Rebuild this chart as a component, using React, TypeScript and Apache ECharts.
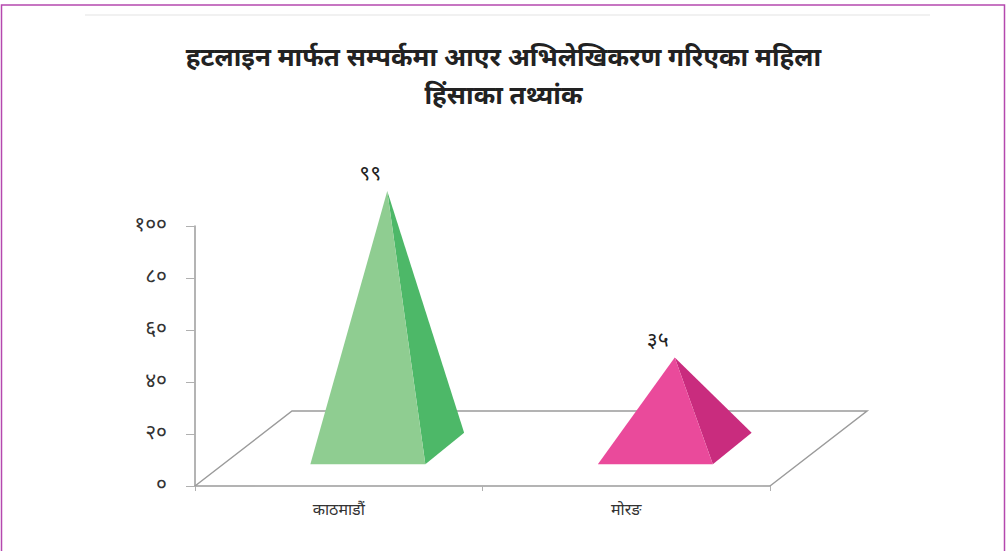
import React, { useEffect, useRef } from 'react';
import * as echarts from 'echarts';

const titleLines = ['हटलाइन मार्फत सम्पर्कमा आएर अभिलेखिकरण गरिएका महिला', 'हिंसाका तथ्यांक'];
const categories = ['काठमाडौं', 'मोरङ'];
const values = [99, 35];
const valueLabels = ['९९', '३५'];
const yTickValues = [0, 20, 40, 60, 80, 100];
const yTickLabels = ['०', '२०', '४०', '६०', '८०', '१००'];
const frontColors = ['#8fcd91', '#ea4a9b'];
const sideColors = ['#4db868', '#c92c7e'];

const FONT = '"Noto Sans Devanagari", "Lohit Devanagari", "Noto Sans", "DejaVu Sans", sans-serif';
const DX = 97; // floor depth shift (x)
const DY = 75; // floor depth shift (y)

export default function App() {
  const ref = useRef<HTMLDivElement>(null);
  useEffect(() => {
    if (!ref.current) return;
    const chart = echarts.init(ref.current, undefined, { renderer: 'svg' });
    const option: any = {
      animation: false,
      backgroundColor: '#ffffff',
      title: {
        text: titleLines.join('\n'),
        left: 'center',
        top: 36,
        textStyle: { fontFamily: FONT, fontSize: 26, fontWeight: 'bold', color: '#222', lineHeight: 38 },
      },
      graphic: [
        { type: 'rect', shape: { x: 1.5, y: 5, width: 1003, height: 570 }, style: { fill: 'none', stroke: '#b548ae', lineWidth: 1.5 }, silent: true },
        { type: 'line', shape: { x1: 85, y1: 15, x2: 930, y2: 15 }, style: { stroke: '#ececec', lineWidth: 1.5 }, silent: true },
      ],
      grid: { left: 195, right: 237, top: 226, bottom: 65, containLabel: false },
      xAxis: {
        type: 'category',
        data: categories,
        boundaryGap: true,
        axisLine: { lineStyle: { color: '#9b9b9b', width: 1.5 } },
        axisTick: { show: true, length: 5, lineStyle: { color: '#b0b0b0' } },
        axisLabel: { fontFamily: FONT, fontSize: 16, color: '#333', margin: 17 },
      },
      yAxis: {
        type: 'value',
        min: 0,
        max: 100,
        interval: 20,
        splitLine: { show: false },
        axisLine: { show: true, lineStyle: { color: '#9b9b9b', width: 1.5 } },
        axisTick: { show: true, length: 9, lineStyle: { color: '#b0b0b0' } },
        axisLabel: {
          fontFamily: FONT,
          fontSize: 21,
          color: '#333',
          margin: 28,
          formatter: (v: number) => {
            const i = yTickValues.indexOf(v);
            return i >= 0 ? yTickLabels[i] : '';
          },
        },
      },
      series: [
        {
          type: 'custom',
          clip: false,
          z: 1,
          silent: true,
          data: [[0, 0]],
          renderItem: (params: any) => {
            const cs = params.coordSys;
            const x0 = cs.x, y0 = cs.y + cs.height, x1 = cs.x + cs.width;
            return {
              type: 'polyline',
              shape: {
                points: [
                  [x0, y0],
                  [x0 + DX, y0 - DY],
                  [x1 + DX, y0 - DY],
                  [x1, y0],
                ],
              },
              style: { stroke: '#9b9b9b', lineWidth: 1.5, fill: 'none' },
            };
          },
        },
        {
          type: 'custom',
          clip: false,
          z: 3,
          data: values.map((v, i) => [i, v]),
          renderItem: (params: any, api: any) => {
            const idx = api.value(0);
            const v = api.value(1);
            const base = api.coord([idx, 0]);
            const top = api.coord([idx, v]);
            const band = api.size([1, 0])[0];
            const bw = band * 0.4;
            const ddx = DX * 0.4;
            const ddy = DY * 0.42;
            const cx = base[0] + DX * 0.5;
            const cy = base[1] - DY * 0.5;
            const h = base[1] - top[1];
            const fl = [cx - bw / 2 - ddx / 2, cy + ddy / 2];
            const fr = [cx + bw / 2 - ddx / 2, cy + ddy / 2];
            const br = [cx + bw / 2 + ddx / 2, cy - ddy / 2];
            const apex = [cx, cy - h];
            const i = params.dataIndex;
            return {
              type: 'group',
              children: [
                { type: 'polygon', shape: { points: [fr, br, apex] }, style: { fill: sideColors[i] } },
                { type: 'polygon', shape: { points: [fl, fr, apex] }, style: { fill: frontColors[i] } },
                {
                  type: 'text',
                  style: {
                    text: valueLabels[i],
                    x: apex[0] - 17,
                    y: apex[1] - 16,
                    align: 'center',
                    verticalAlign: 'middle',
                    fontFamily: FONT,
                    fontSize: 21,
                    fill: '#222',
                  },
                },
              ],
            };
          },
        },
      ],
    };
    chart.setOption(option);
    return () => chart.dispose();
  }, []);
  return <div ref={ref} style={{ position: 'absolute', left: 0, top: 0, width: 1007, height: 551 }} />;
}
